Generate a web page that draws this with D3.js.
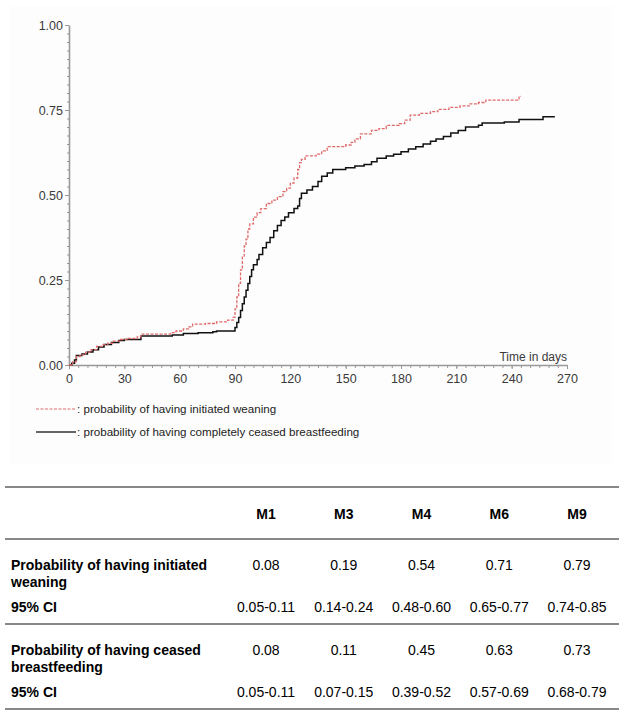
<!DOCTYPE html>
<html><head><meta charset="utf-8">
<script src="https://cdn.jsdelivr.net/npm/d3@7"></script>
<style>
body{margin:0;background:#fff;}
svg text{font-family:"Liberation Sans",Arial,sans-serif;}
</style></head>
<body><svg id="c" width="631" height="720"></svg>
<script>
// Kaplan-Meier style step data (day, cumulative probability)
const weaningDays  = [0,2,4,6,9,12,15,18,21,24,28,32,37,39,55,58,62,65,67,74,80,86,89,90,91,92,93,94,95,96,97,98,100,102,104,107,110,113,116,118,120,122,124,125,126,128,134,137,140,150,153,155,158,164,168,172,179,182,185,190,196,200,206,212,217,222,226,244,245];
const weaningProb  = [0,0.01,0.025,0.03,0.038,0.045,0.055,0.06,0.064,0.07,0.075,0.078,0.083,0.091,0.095,0.10,0.106,0.112,0.12,0.122,0.127,0.132,0.14,0.165,0.20,0.24,0.28,0.32,0.35,0.37,0.40,0.415,0.435,0.448,0.46,0.475,0.485,0.495,0.51,0.52,0.535,0.55,0.575,0.595,0.605,0.615,0.62,0.63,0.642,0.647,0.655,0.665,0.68,0.69,0.695,0.705,0.71,0.72,0.735,0.74,0.745,0.752,0.758,0.762,0.768,0.772,0.779,0.79,0.79];
const ceasedDays   = [0,1.5,3,4,7,10,13,16,19,23,27,30,39,56,62,70,78,80,90,91,92,93,94,95,96,97,98,99,100,102,103,105,107,109,111,113,115,117,119,122,124,125,126,129,132,135,137,140,143,150,155,160,164,167,172,176,180,184,188,192,196,199,203,207,211,215,222,224,236,244,257,263];
const ceasedProb   = [0,0.005,0.015,0.028,0.032,0.038,0.045,0.053,0.06,0.066,0.072,0.075,0.085,0.088,0.093,0.095,0.098,0.10,0.11,0.125,0.14,0.16,0.18,0.20,0.22,0.24,0.26,0.28,0.295,0.31,0.325,0.345,0.36,0.375,0.395,0.41,0.425,0.435,0.448,0.46,0.468,0.49,0.505,0.515,0.525,0.54,0.555,0.565,0.575,0.58,0.585,0.59,0.598,0.608,0.615,0.62,0.627,0.635,0.642,0.65,0.658,0.665,0.672,0.682,0.69,0.70,0.705,0.712,0.715,0.722,0.73,0.732];

const xTicks = [0,30,60,90,120,150,180,210,240,270];
const yTicks = [0,0.25,0.5,0.75,1.0];
const legendLabels = [": probability of having initiated weaning", ": probability of having completely ceased breastfeeding"];
const xAxisLabel = "Time in days";

const colHeaders = ["M1","M3","M4","M6","M9"];
const rowLabels = [["Probability of having initiated","weaning"],["Probability of having ceased","breastfeeding"]];
const initiatedVals = ["0.08","0.19","0.54","0.71","0.79"];
const initiatedCI   = ["0.05-0.11","0.14-0.24","0.48-0.60","0.65-0.77","0.74-0.85"];
const ceasedVals    = ["0.08","0.11","0.45","0.63","0.73"];
const ceasedCI      = ["0.05-0.11","0.07-0.15","0.39-0.52","0.57-0.69","0.68-0.79"];
const ciLabel = "95% CI";

const svg = d3.select("#c");
svg.append("rect").attr("x",10).attr("y",6).attr("width",602).attr("height",458).attr("fill","#fdfdfd");

const x = d3.scaleLinear().domain([0,270]).range([69,567]);
const y = d3.scaleLinear().domain([0,1]).range([365,25]);

const axisColor = "#999";
// minor ticks
const gxm = svg.append("g").attr("transform","translate(0,365)")
  .call(d3.axisBottom(x).tickValues(d3.range(0,271,5)).tickSize(3).tickFormat("").tickSizeOuter(0));
const gym = svg.append("g").attr("transform","translate(69,0)")
  .call(d3.axisLeft(y).tickValues(d3.range(0,41).map(i=>i*0.025)).tickSize(2).tickFormat("").tickSizeOuter(0));
[gxm,gym].forEach(g=>{g.selectAll("line").attr("stroke",axisColor);g.select(".domain").remove();});

const gx = svg.append("g").attr("transform","translate(0,365)")
  .call(d3.axisBottom(x).tickValues(xTicks).tickSize(4).tickPadding(5).tickSizeOuter(0));
const gy = svg.append("g").attr("transform","translate(69,0)")
  .call(d3.axisLeft(y).tickValues(yTicks).tickSize(4).tickPadding(2).tickFormat(d3.format(".2f")).tickSizeOuter(0));
[gx,gy].forEach(g=>{
  g.select(".domain").attr("stroke",axisColor).attr("stroke-width",1.6);
  g.selectAll(".tick line").attr("stroke",axisColor);
  g.selectAll("text").attr("font-size",12.5).attr("fill","#3a3a3a").attr("font-family","Liberation Sans, Arial, sans-serif");
});

svg.append("text").attr("x",567).attr("y",361).attr("text-anchor","end")
  .attr("font-size",12).attr("fill","#3a3a3a").text(xAxisLabel);

const line = d3.line().x(d=>x(d[0])).y(d=>y(d[1])).curve(d3.curveStepAfter);
const wData = weaningDays.map((d,i)=>[d,weaningProb[i]]);
const cData = ceasedDays.map((d,i)=>[d,ceasedProb[i]]);

svg.append("path").datum(cData).attr("d",line).attr("fill","none")
  .attr("stroke","#111").attr("stroke-width",1.5);
svg.append("path").datum(wData).attr("d",line).attr("fill","none")
  .attr("stroke","#e06a6a").attr("stroke-width",1.3).attr("stroke-dasharray","3,1.5");

// legend
const leg = [{y:409,stroke:"#e06a6a",dash:"3,1.5",w:1.2,t:legendLabels[0]},{y:432,stroke:"#333",dash:null,w:1.3,t:legendLabels[1]}];
leg.forEach(l=>{
  svg.append("line").attr("x1",36).attr("x2",76).attr("y1",l.y).attr("y2",l.y)
    .attr("stroke",l.stroke).attr("stroke-width",l.w).attr("stroke-dasharray",l.dash);
  svg.append("text").attr("x",77).attr("y",l.y+4).attr("font-size",11.6).attr("fill","#222").text(l.t);
});

// table
const colX = d3.scalePoint().domain(colHeaders).range([266,577]);
const tblLineColor = "#888";
[487,539,624,709].forEach(yy=>{
  svg.append("line").attr("x1",5).attr("x2",619).attr("y1",yy).attr("y2",yy)
    .attr("stroke",tblLineColor).attr("stroke-width",2);
});
const T = svg.append("g").attr("font-size",14).attr("fill","#000");
colHeaders.forEach(h=>{
  T.append("text").attr("x",colX(h)).attr("y",519).attr("text-anchor","middle").attr("font-weight","bold").text(h);
});
function row(labels, vals, cis, y0){
  T.append("text").attr("x",11).attr("y",y0).attr("font-weight","bold").text(labels[0]);
  T.append("text").attr("x",11).attr("y",y0+17).attr("font-weight","bold").text(labels[1]);
  T.append("text").attr("x",11).attr("y",y0+42).attr("font-weight","bold").text(ciLabel);
  colHeaders.forEach((h,i)=>{
    T.append("text").attr("x",colX(h)).attr("y",y0).attr("text-anchor","middle").text(vals[i]);
    T.append("text").attr("x",colX(h)).attr("y",y0+42).attr("text-anchor","middle").text(cis[i]);
  });
}
row(rowLabels[0], initiatedVals, initiatedCI, 570);
row(rowLabels[1], ceasedVals, ceasedCI, 655);
</script></body></html>
